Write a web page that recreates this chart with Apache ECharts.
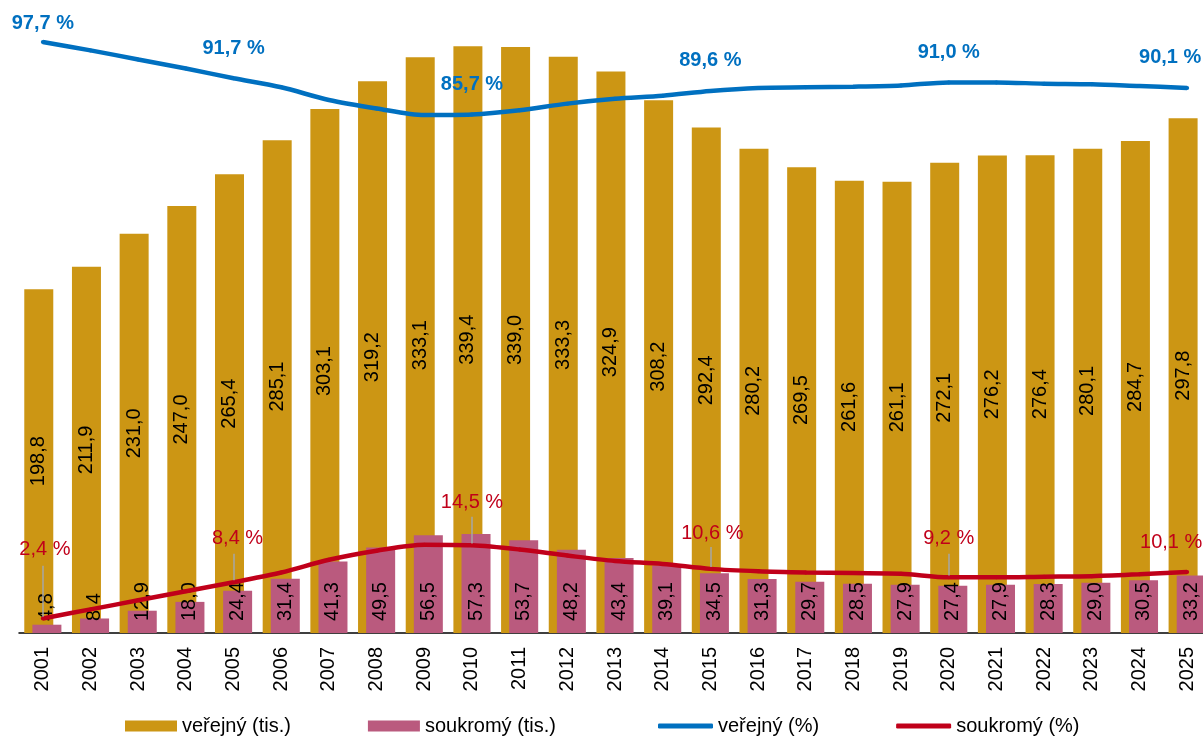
<!DOCTYPE html>
<html><head><meta charset="utf-8">
<script src="https://cdn.jsdelivr.net/npm/echarts@6/dist/echarts.min.js"></script>
<style>html,body{margin:0;padding:0;background:#fff}#c{width:1203px;height:737px}</style>
</head><body><div id="c"></div>
<script>
const years = ['2001','2002','2003','2004','2005','2006','2007','2008','2009','2010','2011','2012','2013','2014','2015','2016','2017','2018','2019','2020','2021','2022','2023','2024','2025'];
const verejnyTis = [198.8,211.9,231.0,247.0,265.4,285.1,303.1,319.2,333.1,339.4,339.0,333.3,324.9,308.2,292.4,280.2,269.5,261.6,261.1,272.1,276.2,276.4,280.1,284.7,297.8];
const soukromyTis = [4.8,8.4,12.9,18.0,24.4,31.4,41.3,49.5,56.5,57.3,53.7,48.2,43.4,39.1,34.5,31.3,29.7,28.5,27.9,27.4,27.9,28.3,29.0,30.5,33.2];
const verejnyPct = [97.7,96.3,94.8,93.3,91.7,90.2,88.1,86.7,85.6,85.7,86.4,87.5,88.3,88.8,89.6,90.1,90.2,90.3,90.5,91.0,91.0,90.8,90.7,90.4,90.1];
const soukromyPct = [2.4,3.9,5.4,6.9,8.4,10.0,12.1,13.6,14.6,14.5,13.8,12.8,11.9,11.4,10.6,10.2,10.0,9.9,9.8,9.2,9.2,9.3,9.4,9.7,10.1];
const labeledIdx = [0,4,9,14,19,24];

const FONT = '"Liberation Sans", Arial, sans-serif';
const fmt = v => v.toFixed(1).replace('.', ',');

// label placement tweaks (styling only)
const blueLabelCfg = {0:{distance:6,offset:[0,0]},4:{distance:18,offset:[0,0]},9:{distance:18,offset:[0,0]},14:{distance:18,offset:[0,0]},19:{distance:18,offset:[0,0]},24:{distance:18,offset:[-17,0]}};
// leader: length of grey guide line in axis-% units (0 = none)
const redLabelCfg = {0:{distance:57,offset:[2,0],leader:8.4},4:{distance:32,offset:[4,0],leader:4.4},9:{distance:31,offset:[0,0],leader:4.4},14:{distance:23,offset:[2,0],leader:3.3},19:{distance:27,offset:[0,0],leader:3.6},24:{distance:17,offset:[-16,0],leader:0}};

function buildLine(values, cfg, color, bold) {
  return values.map((v, i) => {
    if (labeledIdx.indexOf(i) < 0) return v;
    const c = cfg[i];
    return {
      value: v,
      label: {
        show: true, position: 'top', distance: c.distance, offset: c.offset,
        formatter: p => fmt(p.value) + ' %',
        fontSize: 20, fontWeight: bold ? 'bold' : 'normal', color: color, fontFamily: FONT
      }
    };
  });
}

const leaderLines = labeledIdx.filter(i => redLabelCfg[i].leader > 0).map(i => [
  { coord: [i, soukromyPct[i] + 0.3] },
  { coord: [i, soukromyPct[i] + 0.3 + redLabelCfg[i].leader] }
]);

const chart = echarts.init(document.getElementById('c'), null, {renderer: 'canvas'});
chart.setOption({
  animation: false,
  backgroundColor: '#fff',
  grid: { left: 19, width: 1192, top: 28, height: 605, containLabel: false, outerBoundsMode: 'none' },
  xAxis: {
    type: 'category', data: years, boundaryGap: true,
    axisLine: { lineStyle: { color: '#000', width: 1.5 } },
    axisTick: { show: false },
    axisLabel: { rotate: 90, margin: 14, fontSize: 20, color: '#000', fontFamily: FONT, interval: 0 }
  },
  yAxis: [
    { type: 'value', min: 0, max: 350, show: false, splitLine: { show: false } },
    { type: 'value', min: 0, max: 100, show: false, splitLine: { show: false } }
  ],
  legend: [
    { left: 120, top: 711, itemWidth: 52, itemHeight: 11, itemGap: 77, icon: 'rect',
      data: ['veřejný (tis.)', 'soukromý (tis.)'],
      textStyle: { fontSize: 20, color: '#000', fontFamily: FONT } },
    { left: 653, top: 711, itemWidth: 55, itemHeight: 5, itemGap: 77, icon: 'roundRect',
      data: ['veřejný (%)', 'soukromý (%)'],
      textStyle: { fontSize: 20, color: '#000', fontFamily: FONT } }
  ],
  series: [
    {
      name: 'veřejný (tis.)', type: 'bar', data: verejnyTis, barWidth: 29, barGap: '-72%',
      itemStyle: { color: '#CC9614' },
      label: { show: true, position: 'inside', rotate: 90, fontSize: 20, color: '#000', fontFamily: FONT,
        formatter: p => fmt(p.value) }
    },
    {
      name: 'soukromý (tis.)', type: 'bar', data: soukromyTis, barWidth: 29, barGap: '-72%',
      itemStyle: { color: '#BA5A7E' },
      label: { show: true, position: 'insideBottom', distance: 12, rotate: 90, align: 'left', verticalAlign: 'middle',
        fontSize: 20, color: '#000', fontFamily: FONT, formatter: p => fmt(p.value) }
    },
    {
      name: 'veřejný (%)', type: 'line', yAxisIndex: 1, smooth: 0.3,
      symbol: 'circle', symbolSize: 4, showSymbol: true,
      itemStyle: { color: '#0070C0' }, lineStyle: { color: '#0070C0', width: 4.5 },
      data: buildLine(verejnyPct, blueLabelCfg, '#0070C0', true)
    },
    {
      name: 'soukromý (%)', type: 'line', yAxisIndex: 1, smooth: 0.3,
      symbol: 'circle', symbolSize: 4, showSymbol: true,
      itemStyle: { color: '#C0001A' }, lineStyle: { color: '#C0001A', width: 4.5 },
      data: buildLine(soukromyPct, redLabelCfg, '#C0001A', false),
      markLine: {
        silent: true, symbol: ['none', 'none'], animation: false,
        lineStyle: { color: '#A6A6A6', width: 1.5, type: 'solid' },
        label: { show: false },
        data: leaderLines
      }
    }
  ]
});
</script></body></html>
